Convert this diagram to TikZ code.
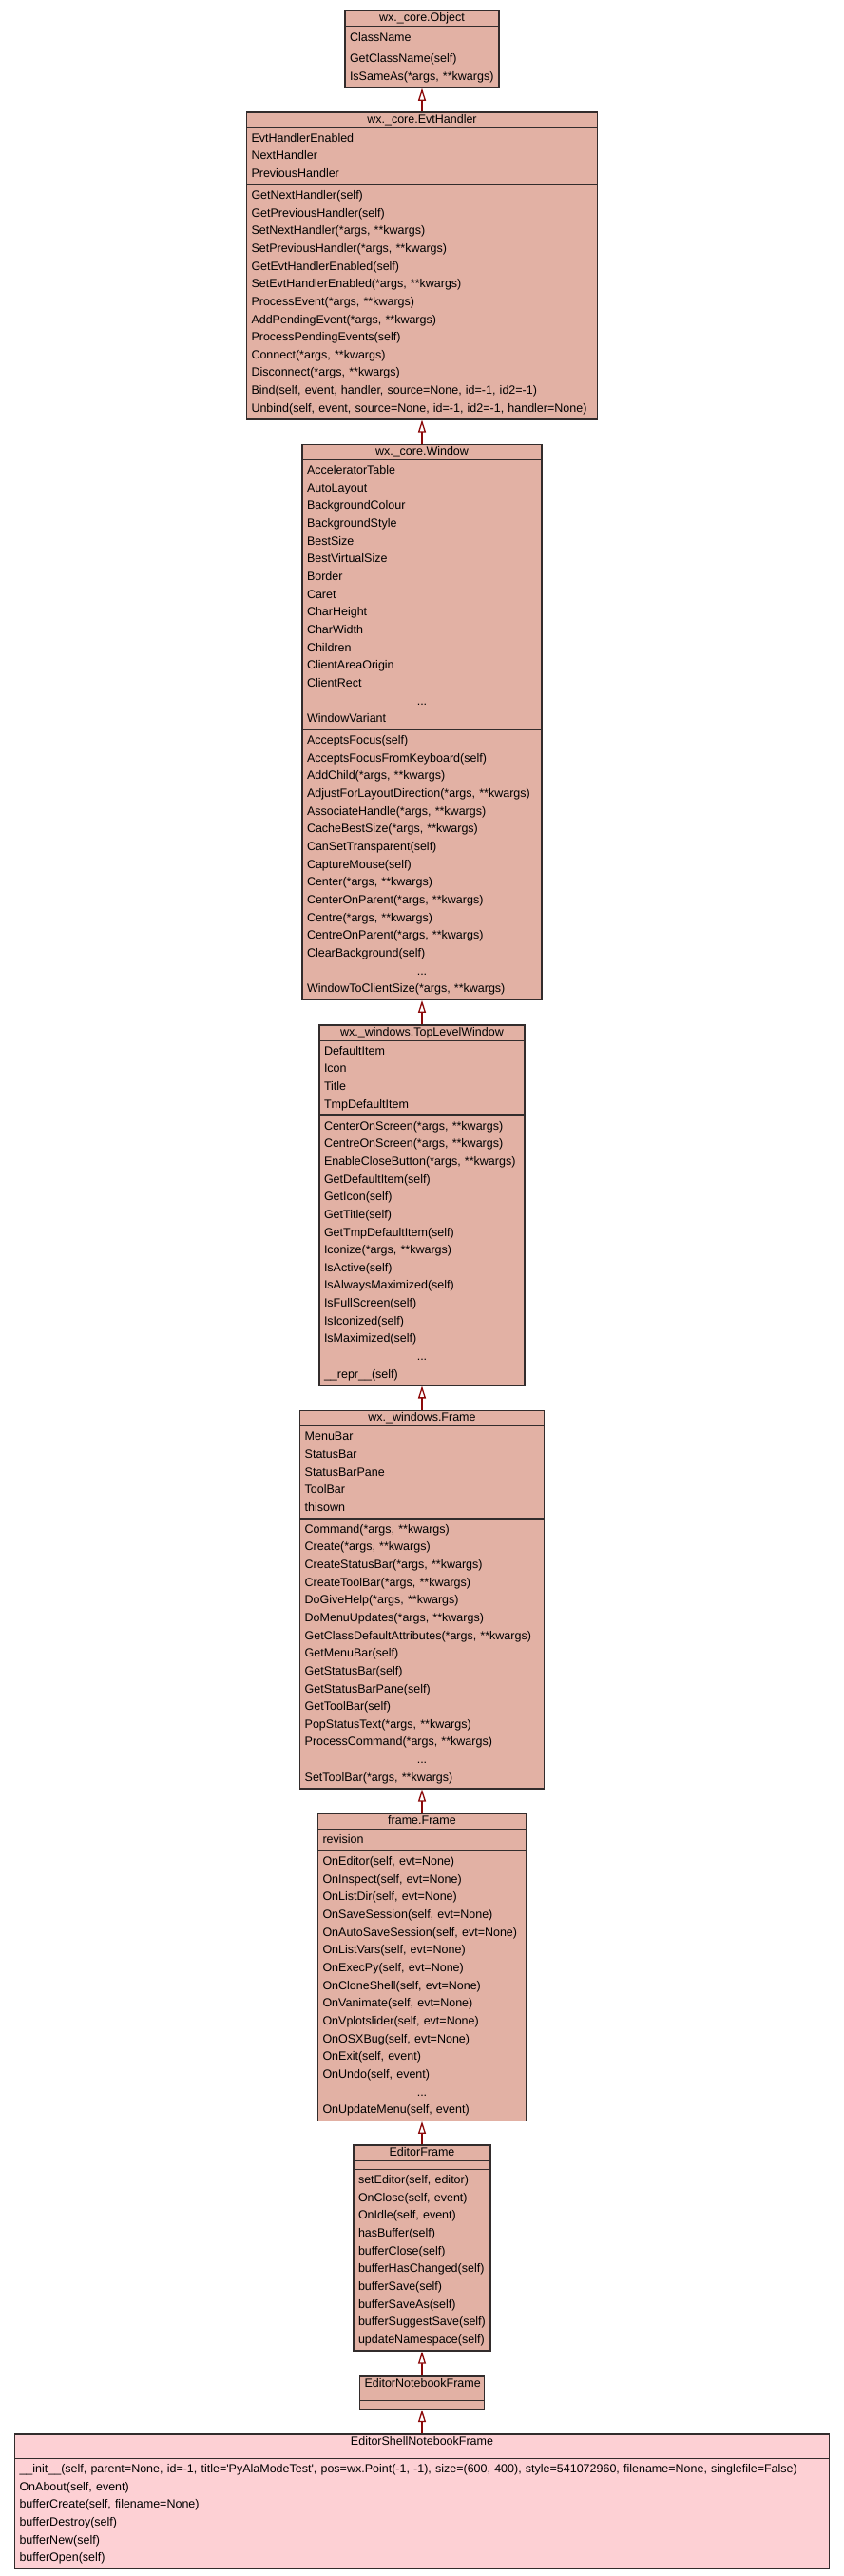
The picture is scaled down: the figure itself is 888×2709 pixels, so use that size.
\documentclass[tikz,border=0pt]{standalone}
\usepackage{fontspec}
\setmainfont{Liberation Sans}
\usetikzlibrary{shapes.multipart, arrows.meta}
\definecolor{classfill}{RGB}{226,177,164}
\definecolor{leaffill}{RGB}{253,208,212}
\definecolor{classline}{RGB}{50,44,44}
\definecolor{inheritred}{RGB}{140,10,10}
\tikzset{
    umlclass/.style={draw=classline, line width=1.2pt, fill=classfill, rectangle split, rectangle split parts=3,
        anchor=north, inner xsep=5pt, inner ysep=1.5pt, align=left, font=\fontsize{12.5}{18.65}\selectfont},
    inherit/.style={draw=inheritred, line width=2.2pt, -{Triangle[open, fill=white, length=13pt, width=8pt, line width=1.3pt]}}
}

\begin{document}
\begin{tikzpicture}[x=1pt, y=-1pt]
    \fill[white] (0,0) rectangle (888,2709);
    % classes, from the root down
    \node[umlclass, text width=152pt] (object) at (444,11) {\leavevmode\hbox to\linewidth{\hfil wx.\_core.Object\hfil}\rule[-3pt]{0pt}{10pt}
        \nodepart{two}\strut ClassName\strut
        \nodepart{three}\strut GetClassName(self)\\
        IsSameAs(*args, **kwargs)\strut};
    \node[umlclass, text width=359pt] (evthandler) at (444,117.3) {\leavevmode\hbox to\linewidth{\hfil wx.\_core.EvtHandler\hfil}\rule[-3pt]{0pt}{10pt}
        \nodepart{two}\strut EvtHandlerEnabled\\ NextHandler\\ PreviousHandler\strut
        \nodepart{three}\strut GetNextHandler(self)\\ GetPreviousHandler(self)\\ SetNextHandler(*args, **kwargs)\\
        SetPreviousHandler(*args, **kwargs)\\ GetEvtHandlerEnabled(self)\\ SetEvtHandlerEnabled(*args, **kwargs)\\
        ProcessEvent(*args, **kwargs)\\ AddPendingEvent(*args, **kwargs)\\ ProcessPendingEvents(self)\\
        Connect(*args, **kwargs)\\ Disconnect(*args, **kwargs)\\ Bind(self, event, handler, source=None, id=-1, id2=-1)\\
        Unbind(self, event, source=None, id=-1, id2=-1, handler=None)\strut};
    \node[umlclass, text width=242pt] (window) at (444,466.6) {\leavevmode\hbox to\linewidth{\hfil wx.\_core.Window\hfil}\rule[-3pt]{0pt}{10pt}
        \nodepart{two}\strut AcceleratorTable\\ AutoLayout\\ BackgroundColour\\ BackgroundStyle\\ BestSize\\
        BestVirtualSize\\ Border\\ Caret\\ CharHeight\\ CharWidth\\ Children\\ ClientAreaOrigin\\ ClientRect\\
        \leavevmode\hbox to\linewidth{\hfil...\hfil}\\ WindowVariant\strut
        \nodepart{three}\strut AcceptsFocus(self)\\ AcceptsFocusFromKeyboard(self)\\ AddChild(*args, **kwargs)\\
        AdjustForLayoutDirection(*args, **kwargs)\\ AssociateHandle(*args, **kwargs)\\ CacheBestSize(*args, **kwargs)\\
        CanSetTransparent(self)\\ CaptureMouse(self)\\ Center(*args, **kwargs)\\ CenterOnParent(*args, **kwargs)\\
        Centre(*args, **kwargs)\\ CentreOnParent(*args, **kwargs)\\ ClearBackground(self)\\
        \leavevmode\hbox to\linewidth{\hfil...\hfil}\\ WindowToClientSize(*args, **kwargs)\strut};
    \node[umlclass, text width=206pt] (toplevel) at (444,1077.3) {\leavevmode\hbox to\linewidth{\hfil wx.\_windows.TopLevelWindow\hfil}\rule[-3pt]{0pt}{10pt}
        \nodepart{two}\strut DefaultItem\\ Icon\\ Title\\ TmpDefaultItem\strut
        \nodepart{three}\strut CenterOnScreen(*args, **kwargs)\\ CentreOnScreen(*args, **kwargs)\\
        EnableCloseButton(*args, **kwargs)\\ GetDefaultItem(self)\\ GetIcon(self)\\ GetTitle(self)\\
        GetTmpDefaultItem(self)\\ Iconize(*args, **kwargs)\\ IsActive(self)\\ IsAlwaysMaximized(self)\\
        IsFullScreen(self)\\ IsIconized(self)\\ IsMaximized(self)\\
        \leavevmode\hbox to\linewidth{\hfil...\hfil}\\ \_\_repr\_\_(self)\strut};
    \node[umlclass, text width=246.6pt] (wxframe) at (444,1482.7) {\leavevmode\hbox to\linewidth{\hfil wx.\_windows.Frame\hfil}\rule[-3pt]{0pt}{10pt}
        \nodepart{two}\strut MenuBar\\ StatusBar\\ StatusBarPane\\ ToolBar\\ thisown\strut
        \nodepart{three}\strut Command(*args, **kwargs)\\ Create(*args, **kwargs)\\ CreateStatusBar(*args, **kwargs)\\
        CreateToolBar(*args, **kwargs)\\ DoGiveHelp(*args, **kwargs)\\ DoMenuUpdates(*args, **kwargs)\\
        GetClassDefaultAttributes(*args, **kwargs)\\ GetMenuBar(self)\\ GetStatusBar(self)\\
        GetStatusBarPane(self)\\ GetToolBar(self)\\ PopStatusText(*args, **kwargs)\\ ProcessCommand(*args, **kwargs)\\
        \leavevmode\hbox to\linewidth{\hfil...\hfil}\\ SetToolBar(*args, **kwargs)\strut};
    \node[umlclass, text width=209pt] (frame) at (444,1906.7) {\leavevmode\hbox to\linewidth{\hfil frame.Frame\hfil}\rule[-3pt]{0pt}{10pt}
        \nodepart{two}\strut revision\strut
        \nodepart{three}\strut OnEditor(self, evt=None)\\ OnInspect(self, evt=None)\\ OnListDir(self, evt=None)\\
        OnSaveSession(self, evt=None)\\ OnAutoSaveSession(self, evt=None)\\ OnListVars(self, evt=None)\\
        OnExecPy(self, evt=None)\\ OnCloneShell(self, evt=None)\\ OnVanimate(self, evt=None)\\
        OnVplotslider(self, evt=None)\\ OnOSXBug(self, evt=None)\\ OnExit(self, event)\\ OnUndo(self, event)\\
        \leavevmode\hbox to\linewidth{\hfil...\hfil}\\ OnUpdateMenu(self, event)\strut};
    \node[umlclass, text width=134pt] (editor) at (444,2255.3) {\leavevmode\hbox to\linewidth{\hfil EditorFrame\hfil}\rule[-3pt]{0pt}{10pt}
        \nodepart{two}\rule{0pt}{5pt}
        \nodepart{three}\strut setEditor(self, editor)\\ OnClose(self, event)\\ OnIdle(self, event)\\
        hasBuffer(self)\\ bufferClose(self)\\ bufferHasChanged(self)\\ bufferSave(self)\\ bufferSaveAs(self)\\
        bufferSuggestSave(self)\\ updateNamespace(self)\strut};
    \node[umlclass, text width=121pt] (notebook) at (444,2498.3) {\leavevmode\hbox to\linewidth{\hfil EditorNotebookFrame\hfil}\rule[-3pt]{0pt}{10pt}
        \nodepart{two}\rule{0pt}{5pt}
        \nodepart{three}\rule{0pt}{5pt}};
    \node[umlclass, fill=leaffill, text width=847pt] (shellnotebook) at (444,2559.3) {\leavevmode\hbox to\linewidth{\hfil EditorShellNotebookFrame\hfil}\rule[-3pt]{0pt}{10pt}
        \nodepart{two}\rule{0pt}{5pt}
        \nodepart{three}\strut \_\_init\_\_(self, parent=None, id=-1, title=\textquotesingle PyAlaModeTest\textquotesingle, pos=wx.Point(-1, -1), size=(600, 400), style=541072960, filename=None, singlefile=False)\\
        OnAbout(self, event)\\ bufferCreate(self, filename=None)\\ bufferDestroy(self)\\ bufferNew(self)\\
        bufferOpen(self)\strut};
    % inheritance
    \draw[inherit] (evthandler.north) -- (object.south);
    \draw[inherit] (window.north) -- (evthandler.south);
    \draw[inherit] (toplevel.north) -- (window.south);
    \draw[inherit] (wxframe.north) -- (toplevel.south);
    \draw[inherit] (frame.north) -- (wxframe.south);
    \draw[inherit] (editor.north) -- (frame.south);
    \draw[inherit] (notebook.north) -- (editor.south);
    \draw[inherit] (shellnotebook.north) -- (notebook.south);
\end{tikzpicture}
\end{document}
